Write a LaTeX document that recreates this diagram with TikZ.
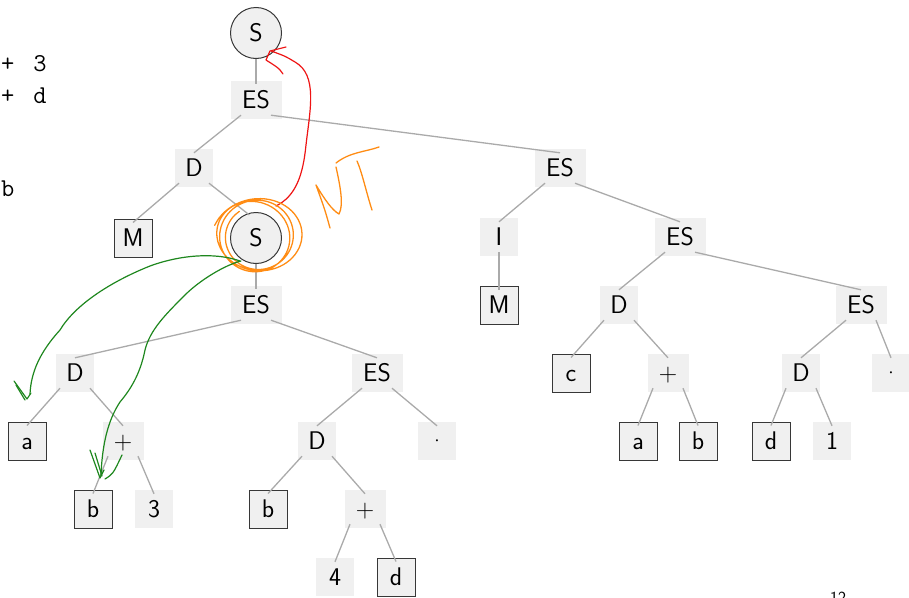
\documentclass[tikz,border=0pt]{standalone}
\usepackage{fontspec}
\definecolor{boxgray}{RGB}{240,240,240}
\definecolor{edgegray}{RGB}{170,170,170}
\definecolor{framegray}{RGB}{55,55,55}
\definecolor{inkred}{RGB}{238,20,20}
\definecolor{inkorange}{RGB}{255,140,20}
\definecolor{inkgreen}{RGB}{30,135,30}
\newcommand{\opsym}[1]{{\rmfamily #1}}
\begin{document}
\begin{tikzpicture}[x=1pt,y=-1pt,
  nt/.style={fill=boxgray, inner sep=0pt, minimum width=38pt, minimum height=38pt,
    text height=17.5pt, text depth=1.5pt, font=\fontsize{25.5}{30}\selectfont\sffamily},
  wide/.style={nt, minimum width=51pt},
  plusbox/.style={nt, minimum width=41pt},
  term/.style={nt, draw=framegray, line width=1pt},
  circ/.style={circle, fill=boxgray, draw=framegray, line width=1pt, minimum size=51pt,
    inner sep=0pt, font=\fontsize{25.5}{30}\selectfont\sffamily},
  edge/.style={draw=edgegray, line width=1.3pt},
  code/.style={inner sep=0pt, anchor=base west, font=\fontsize{25.7}{30}\selectfont\ttfamily},
  ink/.style={line width=1.2pt, line cap=round, line join=round}
]
\useasboundingbox (0,0) rectangle (909,597);

% code fragments at the left edge
\node[code] (c1) at (1,71) {+\hspace{19pt}3};
\node[code] (c2) at (1,103) {+\hspace{19pt}d};
\node[code] (c3) at (1,196) {b};
\node[inner sep=0pt, anchor=north west, font=\fontsize{17}{20}\selectfont\sffamily] (pg) at (830,592) {12};

% tree nodes
\node[circ] (S0) at (256,33) {S};
\node[wide] (ES1) at (256,100) {ES};
\node[nt] (D2) at (194,168) {D};
\node[wide] (ES2) at (560,168) {ES};
\node[term] (M3) at (133,238) {M};
\node[circ] (S3) at (256,238) {S};
\node[nt] (I3) at (499,237) {I};
\node[wide] (ES3) at (680,237) {ES};
\node[wide] (ES4) at (256,305) {ES};
\node[term] (M4) at (499,305) {M};
\node[nt] (D4) at (619,305) {D};
\node[wide] (ES4b) at (861,305) {ES};
\node[nt] (D5) at (75,373) {D};
\node[wide] (ES5) at (377,373) {ES};
\node[term] (c5) at (571,373) {c};
\node[plusbox] (p5) at (668,373) {\opsym{+}};
\node[nt] (D5b) at (801,373) {D};
\node[nt] (dot5) at (891,373) {\opsym{·}};
\node[term] (a6) at (27,441) {a};
\node[plusbox] (p6) at (123,441) {\opsym{+}};
\node[nt] (D6) at (317,441) {D};
\node[nt] (dot6) at (437,441) {\opsym{·}};
\node[term] (a6b) at (638,441) {a};
\node[term] (b6b) at (698,441) {b};
\node[term] (d6) at (771,441) {d};
\node[nt] (one6) at (832,441) {1};
\node[term] (b7) at (93,509) {b};
\node[nt] (three7) at (154,509) {3};
\node[term] (b7b) at (268,509) {b};
\node[plusbox] (p7) at (365,509) {\opsym{+}};
\node[nt] (four8) at (335,577) {4};
\node[term] (d8) at (396,577) {d};

% edges
\draw[edge] (S0.south) -- ([yshift=-3pt]ES1.north);
\draw[edge] (S3.south) -- ([yshift=-3pt]ES4.north);
\draw[edge] ([yshift=4pt]I3.south) -- ([yshift=-4pt]M4.north);
\draw[edge] ([xshift=-15pt,yshift=4pt]D2.south) -- ([yshift=-4pt]M3.north);
\draw[edge] ([xshift=15pt,yshift=4pt]D2.south) -- ([yshift=-2pt]S3.105);
\foreach \p/\l/\r in {ES1/D2/ES2, ES2/I3/ES3, ES3/D4/ES4b, ES4/D5/ES5, D4/c5/p5,
  ES4b/D5b/dot5, D5/a6/p6, ES5/D6/dot6, p5/a6b/b6b, D5b/d6/one6, p6/b7/three7,
  D6/b7b/p7, p7/four8/d8} {
  \draw[edge] ([xshift=-15pt,yshift=4pt]\p.south) -- ([yshift=-4pt]\l.north);
  \draw[edge] ([xshift=15pt,yshift=4pt]\p.south) -- ([yshift=-4pt]\r.north);
}

% red annotation arrow
\draw[ink, draw=inkred] (276,206) .. controls (296,196) and (303,175) .. (306,145)
  .. controls (310,110) and (318,75) .. (295,62) .. controls (285,56) .. (271,51);
\draw[ink, draw=inkred] (286,47) -- (270,51) -- (266,60) .. controls (272,64) and (280,68) .. (283,74);

% orange scribble around S and "NT"
\draw[ink, draw=inkorange, line width=1.3pt] plot[smooth, domain=0:1120, samples=100, variable=\t]
  ({256 + 4*sin(0.5*\t) + (44-0.012*\t)*cos(\t+200)}, {236 + 3*cos(0.7*\t) + (40-0.009*\t)*sin(\t+200)});
\draw[ink, draw=inkorange, line width=1.3pt] (330,228) .. controls (325,210) .. (316,185)
  .. controls (325,200) and (332,210) .. (339,214) .. controls (344,205) and (340,185) .. (336,167);
\draw[ink, draw=inkorange, line width=1.3pt] (336,163) .. controls (350,152) and (365,152) .. (379,147);
\draw[ink, draw=inkorange, line width=1.3pt] (357,161) .. controls (362,172) and (367,195) .. (372,210);

% green annotation arrows
\draw[ink, draw=inkgreen] (240,261) .. controls (215,252) and (180,255) .. (150,266)
  .. controls (110,282) and (75,305) .. (60,330) .. controls (40,352) and (31,372) .. (30,394);
\draw[ink, draw=inkgreen] (14,381) -- (27,399) -- (31,393);
\draw[ink, draw=inkgreen] (16,385) -- (25,400);
\draw[ink, draw=inkgreen] (241,261) .. controls (225,265) and (200,280) .. (185,295)
  .. controls (165,315) and (150,330) .. (145,350) .. controls (140,375) and (130,390) .. (120,402)
  .. controls (108,420) and (102,445) .. (101,476);
\draw[ink, draw=inkgreen] (90,450) -- (100,478) -- (104,470);
\draw[ink, draw=inkgreen] (95,453) -- (102,476);
\draw[ink, draw=inkgreen] (105,479) .. controls (113,474) .. (122,455);
\end{tikzpicture}
\end{document}
